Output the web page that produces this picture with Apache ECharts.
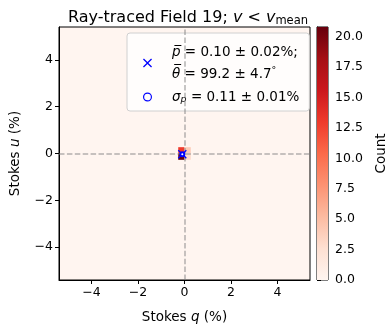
<!DOCTYPE html>
<html>
<head>
<meta charset="utf-8">
<script src="https://cdn.jsdelivr.net/npm/echarts@6/dist/echarts.min.js"></script>
<style>
  html, body { margin: 0; padding: 0; background: #fff; }
  #main { width: 389px; height: 330px; }
</style>
</head>
<body>
<div id="main"></div>
<script>
// histogram cells (bin centres, %), bin width 0.27
var binWidth = 0.27;
var cellQ = [-0.135, -0.135, 0.135, 0.135];
var cellU = [0.135, -0.135, 0.135, -0.135];
var cellCount = [13, 21, 4, 3];

// mean point (q, u)
var meanQ = [-0.095];
var meanU = [-0.032];

var axisTicks = [-4, -2, 0, 2, 4];
var countTicks = [0, 2.5, 5, 7.5, 10, 12.5, 15, 17.5, 20];
var countMax = 20.8;

var reds = ['#fff5f0', '#fee0d2', '#fcbba1', '#fc9272', '#fb6a4a', '#ef3b2c', '#cb181d', '#a50f15', '#67000d'];

var chart = echarts.init(document.getElementById('main'));
var font = 'DejaVu Sans';

var cells = [];
for (var i = 0; i < cellQ.length; i++) {
  cells.push([cellQ[i], cellU[i], cellCount[i]]);
}
var meanPts = meanQ.map(function (q, i) { return [q, meanU[i]]; });

function minus(v) {
  return String(v).replace('-', '\u2212');
}

var crossPath = 'path://M1,0L5,4L9,0L10,1L6,5L10,9L9,10L5,6L1,10L0,9L4,5L0,1Z';
var ringPath = 'path://M5,0A5,5 0 1,1 4.99,0ZM5,1.3A3.7,3.7 0 1,0 5.01,1.3Z';

var option = {
  animation: false,
  backgroundColor: '#fff',
  title: {
    text: 'Ray-traced Field 19; {i|v} < {i|v}{sub|mean}',
    left: 183,
    top: 3,
    textAlign: 'center',
    textStyle: {
      fontFamily: font, fontSize: 16, fontWeight: 'normal', color: '#000',
      rich: {
        i: { fontFamily: font, fontSize: 16, fontStyle: 'italic', color: '#000' },
        sub: { fontFamily: font, fontSize: 11.5, color: '#000', padding: [7, 0, 0, 0] }
      }
    }
  },
  grid: [
    { left: 56, top: 27, width: 254, height: 253, show: true, backgroundColor: '#fff5f0', borderColor: '#000', borderWidth: 1 },
    { left: 317, top: 27, width: 14, height: 253, show: true, borderColor: '#000', borderWidth: 1 }
  ],
  xAxis: [
    {
      gridIndex: 0, type: 'value', min: -5.4, max: 5.4,
      name: 'Stokes {i|q} (%)', nameLocation: 'middle', nameGap: 30,
      nameTextStyle: { fontFamily: font, fontSize: 13.5, color: '#000', rich: { i: { fontFamily: font, fontSize: 13.5, fontStyle: 'italic', color: '#000' } } },
      splitLine: { show: false },
      axisLine: { onZero: false, lineStyle: { color: '#000' } },
      axisTick: { length: 4, lineStyle: { color: '#000' }, customValues: axisTicks },
      axisLabel: { fontFamily: font, fontSize: 12.5, color: '#000', margin: 6, customValues: axisTicks, formatter: minus }
    },
    { gridIndex: 1, type: 'value', min: 0, max: 1, show: false }
  ],
  yAxis: [
    {
      gridIndex: 0, type: 'value', min: -5.4, max: 5.4,
      name: 'Stokes {i|u} (%)', nameLocation: 'middle', nameGap: 37, nameRotate: 90,
      nameTextStyle: { fontFamily: font, fontSize: 13.5, color: '#000', rich: { i: { fontFamily: font, fontSize: 13.5, fontStyle: 'italic', color: '#000' } } },
      splitLine: { show: false },
      axisLine: { onZero: false, lineStyle: { color: '#000' } },
      axisTick: { length: 4, lineStyle: { color: '#000' }, customValues: axisTicks },
      axisLabel: { fontFamily: font, fontSize: 12.5, color: '#000', margin: 6, customValues: axisTicks, formatter: minus }
    },
    {
      gridIndex: 1, type: 'value', min: 0, max: countMax, position: 'right',
      name: 'Count', nameLocation: 'middle', nameGap: 46, nameRotate: 90,
      nameTextStyle: { fontFamily: font, fontSize: 13.5, color: '#000' },
      splitLine: { show: false },
      axisLine: { show: true, lineStyle: { color: '#000' } },
      axisTick: { length: 4, lineStyle: { color: '#000' }, customValues: countTicks },
      axisLabel: { fontFamily: font, fontSize: 12.5, color: '#000', margin: 7, customValues: countTicks, formatter: function (v) { return v.toFixed(1); } }
    }
  ],
  visualMap: {
    type: 'continuous', show: false, min: 0, max: countMax, dimension: 2, seriesIndex: 1,
    inRange: { color: reds }
  },
  legend: {
    orient: 'vertical',
    left: 127, top: 33,
    padding: [8, 10, 3, 16],
    itemWidth: 9, itemHeight: 9, itemGap: 1,
    backgroundColor: 'rgba(255,255,255,0.8)',
    borderColor: '#d0d0d0', borderWidth: 1, borderRadius: 3,
    data: [
      { name: 'mean', icon: crossPath, itemStyle: { color: '#0000ff' } },
      { name: 'sigma', icon: ringPath, itemStyle: { color: '#0000ff', borderWidth: 0 } }
    ],
    formatter: function (name) {
      if (name === 'mean') {
        return '{i|p\u0305} = 0.10 \u00b1 0.02%;\n{i|\u03b8\u0305} = 99.2 \u00b1 4.7{deg|\u00b0}';
      }
      return '{i|\u03c3}{sub|p} = 0.11 \u00b1 0.01%';
    },
    textStyle: {
      fontFamily: font, fontSize: 13.5, color: '#000', lineHeight: 22, padding: [0, 0, 0, 15],
      rich: {
        i: { fontFamily: font, fontSize: 13.5, fontStyle: 'italic', color: '#000', lineHeight: 22 },
        sub: { fontFamily: font, fontSize: 9.5, fontStyle: 'italic', color: '#000', padding: [6, 0, 0, 0], lineHeight: 22 },
        deg: { fontFamily: font, fontSize: 9.5, color: '#000', padding: [0, 0, 6, 0], lineHeight: 22 }
      }
    }
  },
  series: [
    {
      // zero lines
      name: 'zero', type: 'scatter', xAxisIndex: 0, yAxisIndex: 0, data: [], z: 1, silent: true,
      markLine: {
        silent: true, symbol: 'none', label: { show: false },
        lineStyle: { color: 'rgba(128,128,128,0.6)', type: [5.5, 2.4], width: 1.5 },
        data: [{ xAxis: 0 }, { yAxis: 0 }]
      }
    },
    {
      name: 'hist', type: 'custom', xAxisIndex: 0, yAxisIndex: 0, z: 3, silent: true,
      encode: { x: 0, y: 1 },
      data: cells,
      renderItem: function (params, api) {
        var q = api.value(0), u = api.value(1);
        var p0 = api.coord([q - binWidth / 2, u + binWidth / 2]);
        var p1 = api.coord([q + binWidth / 2, u - binWidth / 2]);
        return {
          type: 'rect',
          shape: { x: p0[0], y: p0[1], width: p1[0] - p0[0], height: p1[1] - p0[1] },
          style: { fill: api.visual('color') }
        };
      }
    },
    {
      name: 'mean', type: 'scatter', xAxisIndex: 0, yAxisIndex: 0, z: 5,
      symbol: crossPath, symbolSize: 9, itemStyle: { color: '#0000ff', opacity: 1 },
      data: meanPts
    },
    {
      name: 'sigma', type: 'scatter', xAxisIndex: 0, yAxisIndex: 0, z: 5,
      symbol: 'emptyCircle', symbolSize: 4,
      itemStyle: { color: '#0000ff', borderColor: '#0000ff', borderWidth: 1.2, opacity: 1 },
      data: meanPts
    },
    {
      name: 'colorbar', type: 'custom', xAxisIndex: 1, yAxisIndex: 1, silent: true,
      data: [[0, countMax]],
      renderItem: function (params, api) {
        var top = api.coord([0, api.value(1)]);
        var bottom = api.coord([1, 0]);
        return {
          type: 'rect',
          shape: { x: top[0], y: top[1], width: bottom[0] - top[0], height: bottom[1] - top[1] },
          style: {
            fill: new echarts.graphic.LinearGradient(0, 1, 0, 0, reds.map(function (c, k) {
              return { offset: k / (reds.length - 1), color: c };
            }))
          }
        };
      }
    }
  ]
};

chart.setOption(option);
</script>
</body>
</html>
